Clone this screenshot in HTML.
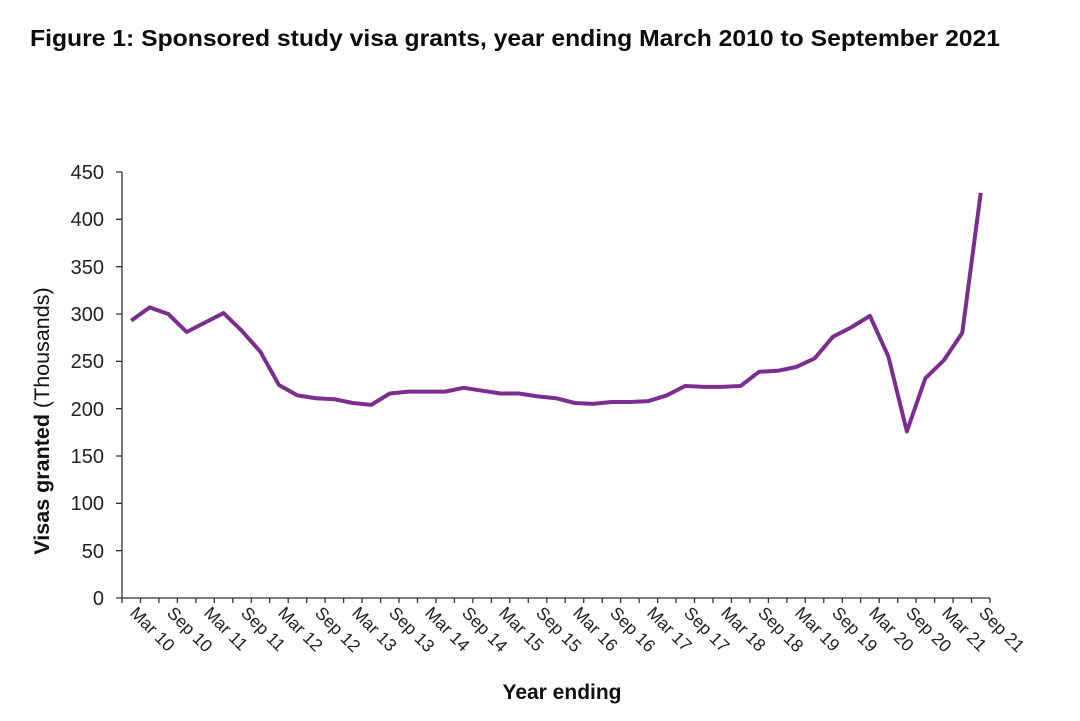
<!DOCTYPE html>
<html><head><meta charset="utf-8"><style>
html,body{margin:0;padding:0;background:#fff;}
svg{display:block;font-family:"Liberation Sans",sans-serif;}
</style></head><body>
<svg width="1080" height="721" viewBox="0 0 1080 721" xmlns="http://www.w3.org/2000/svg">
<text x="30" y="46" font-size="23.5" font-weight="bold" fill="#0b0c0c" textLength="970" lengthAdjust="spacingAndGlyphs">Figure 1: Sponsored study visa grants, year ending March 2010 to September 2021</text>
<g stroke="#333" stroke-width="1.3" fill="none">
<line x1="122" y1="172" x2="122" y2="598"/>
<line x1="122" y1="598" x2="990" y2="598"/>
<path d="M116 598h6M116 550.7h6M116 503.3h6M116 456h6M116 408.7h6M116 361.3h6M116 314h6M116 266.7h6M116 219.3h6M116 172h6"/>
<path d="M122 598v5M140.5 598v5M158.9 598v5M177.4 598v5M195.9 598v5M214.3 598v5M232.8 598v5M251.3 598v5M269.7 598v5M288.2 598v5M306.7 598v5M325.1 598v5M343.6 598v5M362.1 598v5M380.6 598v5M399 598v5M417.5 598v5M436 598v5M454.4 598v5M472.9 598v5M491.4 598v5M509.8 598v5M528.3 598v5M546.8 598v5M565.2 598v5M583.7 598v5M602.2 598v5M620.6 598v5M639.1 598v5M657.6 598v5M676 598v5M694.5 598v5M713 598v5M731.4 598v5M749.9 598v5M768.4 598v5M786.9 598v5M805.3 598v5M823.8 598v5M842.3 598v5M860.7 598v5M879.2 598v5M897.7 598v5M916.1 598v5M934.6 598v5M953.1 598v5M971.5 598v5M990 598v5"/>
</g>
<g font-size="20" fill="#222" text-anchor="end">
<text x="104" y="605">0</text><text x="104" y="558">50</text><text x="104" y="510">100</text><text x="104" y="463">150</text><text x="104" y="416">200</text><text x="104" y="368">250</text><text x="104" y="321">300</text><text x="104" y="274">350</text><text x="104" y="226">400</text><text x="104" y="179">450</text>
</g>
<text transform="translate(49,421) rotate(-90)" font-size="21.5" font-weight="bold" fill="#111" text-anchor="middle">Visas granted <tspan font-weight="normal">(Thousands)</tspan></text>
<g font-size="17.5" fill="#222">
<text transform="translate(129,614) rotate(45)">Mar 10</text>
<text transform="translate(166,614) rotate(45)">Sep 10</text>
<text transform="translate(203,614) rotate(45)">Mar 11</text>
<text transform="translate(240,614) rotate(45)">Sep 11</text>
<text transform="translate(277,614) rotate(45)">Mar 12</text>
<text transform="translate(314,614) rotate(45)">Sep 12</text>
<text transform="translate(351,614) rotate(45)">Mar 13</text>
<text transform="translate(388,614) rotate(45)">Sep 13</text>
<text transform="translate(424,614) rotate(45)">Mar 14</text>
<text transform="translate(461,614) rotate(45)">Sep 14</text>
<text transform="translate(498,614) rotate(45)">Mar 15</text>
<text transform="translate(535,614) rotate(45)">Sep 15</text>
<text transform="translate(572,614) rotate(45)">Mar 16</text>
<text transform="translate(609,614) rotate(45)">Sep 16</text>
<text transform="translate(646,614) rotate(45)">Mar 17</text>
<text transform="translate(683,614) rotate(45)">Sep 17</text>
<text transform="translate(720,614) rotate(45)">Mar 18</text>
<text transform="translate(757,614) rotate(45)">Sep 18</text>
<text transform="translate(794,614) rotate(45)">Mar 19</text>
<text transform="translate(831,614) rotate(45)">Sep 19</text>
<text transform="translate(868,614) rotate(45)">Mar 20</text>
<text transform="translate(905,614) rotate(45)">Sep 20</text>
<text transform="translate(941,614) rotate(45)">Mar 21</text>
<text transform="translate(978,614) rotate(45)">Sep 21</text>
</g>
<text x="562" y="699" font-size="21" font-weight="bold" fill="#111" text-anchor="middle">Year ending</text>
<g transform="translate(131.2,598) scale(18.468,-0.9467)">
<polyline fill="none" stroke="#7b2e8f" stroke-width="4" stroke-linejoin="round" vector-effect="non-scaling-stroke" points="0,293 1,307 2,300 3,281 4,291 5,301 6,282 7,260 8,225 9,214 10,211 11,210 12,206 13,204 14,216 15,218 16,218 17,218 18,222 19,219 20,216 21,216 22,213 23,211 24,206 25,205 26,207 27,207 28,208 29,214 30,224 31,223 32,223 33,224 34,239 35,240 36,244 37,253 38,276 39,286 40,298 41,255 42,176 43,232 44,251 45,280 46,428"/>
</g>
</svg>
</body></html>
